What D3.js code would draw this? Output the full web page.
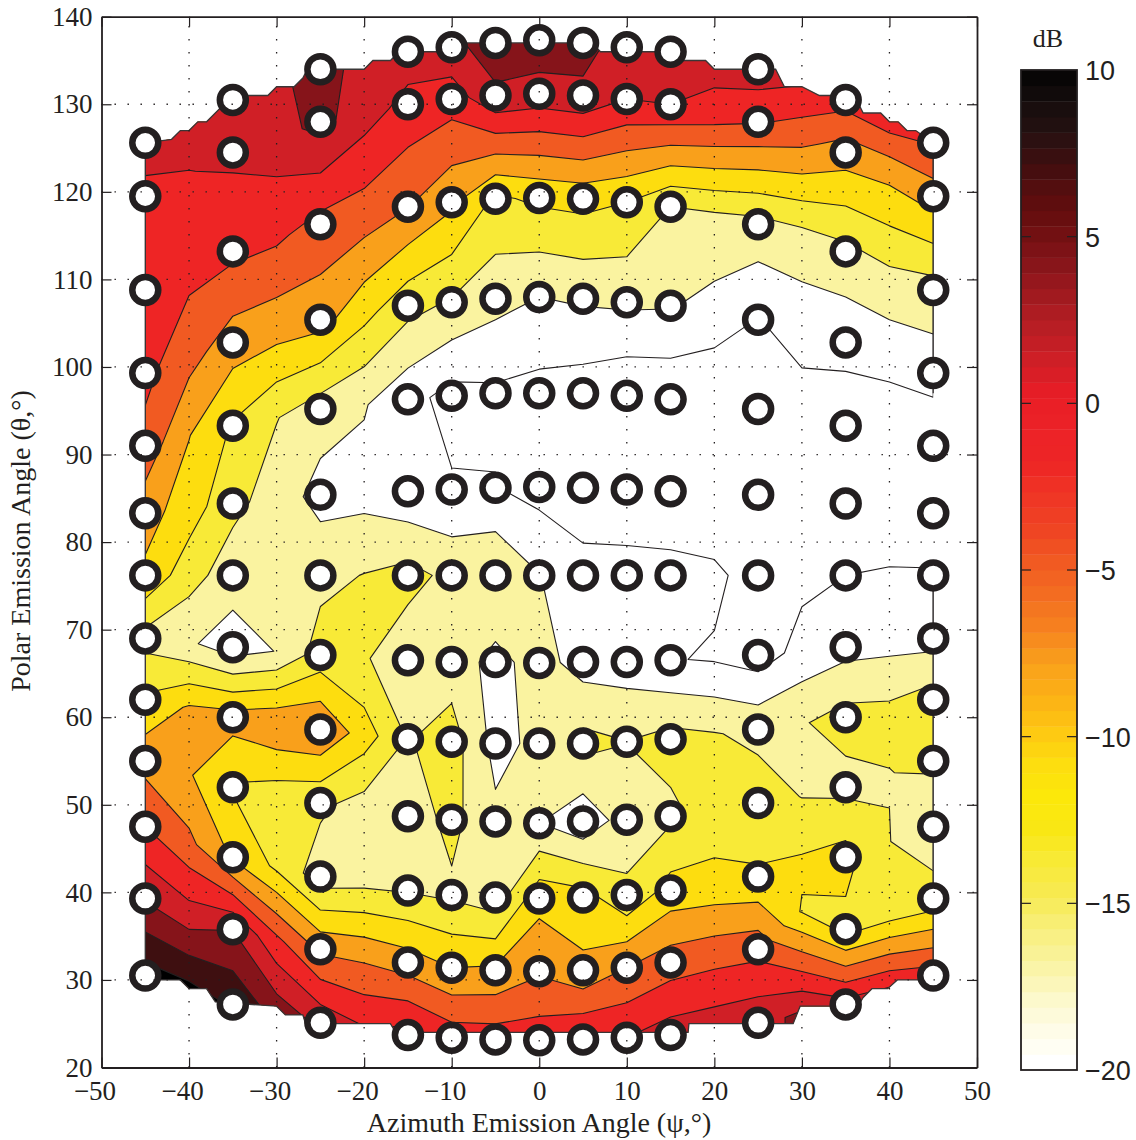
<!DOCTYPE html>
<html>
<head>
<meta charset="utf-8">
<style>html,body{margin:0;padding:0;background:#fff}svg{display:block}</style>
<script src="https://cdn.jsdelivr.net/npm/d3@7"></script>
</head>
<body>
<svg id="c" width="1136" height="1140"></svg>
<script>
// Azimuth columns of the field; the measured ones carry markers
const psiColumns = [-45,-40,-35,-30,-25,-20,-15,-10,-5,0,5,10,15,20,25,30,35,40,45];
const measuredPsi = [-45,-35,-25,-15,-10,-5,0,5,10,15,25,35,45];
// Polar angle of each measurement (bottom to top)
const thetaA = [30.5,39.3,47.5,55,62,69,76.2,83.3,91,99.3,108.8,119.5,125.6];
const thetaB = [27.2,35.8,44,52,60,68,76.2,84.4,93.3,102.8,113.2,124.5,130.5];
const thetaC = [25.1,33.5,41.8,50.2,58.6,67.1,76.2,85.4,95.2,105.4,116.3,128,134];
const thetaD = [23.7,32,40.2,48.7,57.5,66.5,76.2,85.8,96.3,107,118.3,130,136];
const thetaE = [23.4,31.4,39.7,48.3,57.2,66.3,76.2,86,96.7,107.4,118.8,130.6,136.5];
const thetaF = [23.2,31.1,39.4,48.1,57,66.3,76.2,86.2,97,107.8,119.2,131,137];
const thetaG = [23.1,31,39.3,47.9,57,66.2,76.2,86.3,97,108,119.3,131.2,137.3];
const thetaAB = [28.85,37.55,45.75,53.5,61,68.5,76.2,83.85,92.15,101.05,111,122,128];
const thetaBC = [26.1,34.55,42.85,51,59.25,67.5,76.2,84.85,94.15,104,114.6,126.1,132.15];
const thetaCD = [24.35,32.65,40.95,49.35,58,66.75,76.2,85.55,95.65,106.1,117.15,128.85,134.9];
const thetaP30 = [26.1,38,42.85,51,59.25,67.5,76.2,84.85,94.15,104,114.6,126.1,132.15];
const thetaByColumn = [thetaA,thetaAB,thetaB,thetaBC,thetaC,thetaCD,thetaD,thetaE,thetaF,thetaG,thetaF,thetaE,thetaD,thetaCD,thetaC,thetaP30,thetaB,thetaAB,thetaA];
// dB per column (bottom to top)
const dbM45 = [11.3,3.7,-2,-6.1,-10.5,-15.1,-8.6,-6.8,-3,-1.2,-0.2,0.5,1.8];
const dbM40 = [11,2.2,-4.3,-7.7,-7.6,-16.6,-12.8,-9.5,-7.9,-4,-1.2,0.9,2.2];
const dbM35 = [9.5,3.9,-8.4,-11.3,-6.8,-18.5,-15.6,-13.2,-11.3,-6.5,-1.3,1.6,2.2];
const dbM30 = [6,-1.3,-11.5,-12.5,-5.5,-16.9,-15.2,-15.3,-13.9,-7,-1.6,2.6,3.4];
const dbM25 = [3.2,-5.6,-15.6,-13.4,-5.1,-12.75,-14.8,-18.1,-15.5,-6.8,-3,5,5.2];
const dbM20 = [1.3,-5.6,-14.5,-15.5,-9.5,-13.7,-13.9,-18,-16.8,-10.1,-3.6,2.2,3];
const dbM15 = [2,-6.5,-14.2,-15.5,-14.2,-15.9,-13,-19.3,-19,-13,-4.9,0.1,2.5];
const dbM10 = [-0.3,-8,-14.5,-13.2,-12.6,-15.5,-14.8,-19.7,-21,-14.3,-7.4,-0.65,3.2];
const dbM5  = [-0.4,-7.5,-15.6,-16.3,-18,-17.9,-14.1,-19.9,-20.5,-16,-11.5,3.5,5.5];
const db0   = [-0.2,-5.4,-9,-16.95,-16.2,-15.8,-16.9,-21.1,-21,-17,-10.4,2.8,5.8];
const dbP5  = [1.2,-7.3,-9.8,-19.2,-13,-18.3,-19.3,-21.2,-21.5,-16.6,-10,3.3,5.2];
const dbP10 = [1,-5,-13.4,-15.5,-13.95,-18.5,-19.25,-21.4,-22.5,-16.5,-11,1,2.5];
const dbP15 = [2.5,-3.5,-9.8,-14.6,-13,-19.8,-19.3,-21.6,-22.5,-16.8,-14,1,2.5];
const dbP20 = [2.8,-3,-10,-12.8,-13.8,-20.3,-19.4,-22.5,-23,-18.2,-14.6,-0.6,2.6];
const dbP25 = [3.2,-3,-10.7,-12.5,-14.8,-21.5,-21.3,-22,-22,-20.1,-15,-1.8,2.8];
const dbP30 = [4.5,-11.4,-10.3,-14.1,-14.2,-19,-20.7,-21.8,-21.4,-19,-15.3,-4,1];
const dbP35 = [2.2,-12,-9.8,-14.8,-13,-18,-20,-21.5,-21.5,-19.2,-14.8,-6.5,-0.8];
const dbP40 = [1.5,-12.3,-13.95,-14.05,-13.5,-17.9,-19.6,-22.7,-22,-19.1,-14.3,-7.2,-0.6];
const dbP45 = [-0.5,-13,-15.6,-13.6,-12.6,-18.2,-19.6,-23,-23,-18.5,-15.3,-6.6,-1.8];
const dbByColumn = [dbM45,dbM40,dbM35,dbM30,dbM25,dbM20,dbM15,dbM10,dbM5,db0,dbP5,dbP10,dbP15,dbP20,dbP25,dbP30,dbP35,dbP40,dbP45];
// Contour levels
const levels = [-20,-17,-14,-11,-8,-5,-2,1,4,7,10];
// Colormap
const cmapDb = [-20,-19,-18,-17,-16,-15,-14,-13,-12,-11,-10,-9,-8,-7,-6,-5,-4,-3,-2,-1,0,1,2,3,4,5,6,7,8,9,10];
const cmapHex = ["#ffffff","#fefce6","#fcf8c8","#faf3a0","#f8ef7c","#f7ea52","#f8ea37","#f9e714","#fce80a","#fddd0f","#fec612","#fbb016","#f9a01b","#f6821f","#f36d21","#f15a22","#ef4423","#ef3525","#ee2525","#ec2227","#e91d26","#d01f26","#b91e24","#a01a1f","#86141a","#6e0f10","#5a0d0e","#3e0f10","#231011","#120c0c","#000000"];
// Outline of the interpolated region (azimuth, polar)
const outlineTopPsi = [-45,-42,-41,-40,-39,-38,-37,-36,-35,-31,-30,-28,-27,-26.5,-20,-19,-17,-16,-11,-10,6,7,15,16,19,20,27,28,30,32,36,37,39,40,41,42,43,45];
const outlineTopTheta = [125.6,126,127,127,128,128,129,130,131,131,132,132,133,134,134,135,135,136,136,137,137,136,136,135,135,134,134,132,132,131,131,129,129,128,128,127,127,125.6];
const outlineBottomPsi = [-45,-41,-40,-38,-37,-30,-29,-27,-26.7,-17,-16.4,17,17.1,29,29.8,36.4,37,38,39.8,40.9,45];
const outlineBottomTheta = [30,30,29,29,27.5,27,26,26,25,25,24,24,25,25,27,27,28,29,29,30,30];
const rightEdgeGap = [97,77.3];
// Tick labels
const xTicks = [-50,-40,-30,-20,-10,0,10,20,30,40,50];
const yTicks = [20,30,40,50,60,70,80,90,100,110,120,130,140];
const barTicks = [10,5,0,-5,-10,-15,-20];
const xTitle = "Azimuth Emission Angle (ψ,°)";
const yTitle = "Polar Emission Angle (θ,°)";
const barTitle = "dB";

const ink = "#231f20";
const svg = d3.select("#c");
const x = d3.scaleLinear().domain([-50,50]).range([101.5,977]);
const y = d3.scaleLinear().domain([20,140]).range([1067.5,16.7]);
const cmap = d3.scaleLinear().domain(cmapDb).range(cmapHex);
const fmt = v => String(v).replace("-","\u2212");

// grid with a padded row below and above so the outline can clip it
const nc = psiColumns.length, nr = thetaA.length + 2;
const thetaGrid = thetaByColumn.map(t => [t[0]-6, ...t, t[t.length-1]+6]);
const dbGrid = dbByColumn.map(d => [d[0], ...d, d[d.length-1]]);
const flat = [];
for (let j=0;j<nr;j++) for (let i=0;i<nc;i++) flat.push(dbGrid[i][j]);

function mapPoint(p){
  const u = Math.max(0,Math.min(nc-1,p[0]-0.5)), v = Math.max(0,Math.min(nr-1,p[1]-0.5));
  const i = Math.min(nc-2,Math.floor(u)), j = Math.min(nr-2,Math.floor(v));
  const fu = u-i, fv = v-j;
  const psi = psiColumns[i]*(1-fu)+psiColumns[i+1]*fu;
  const t0 = thetaGrid[i][j]*(1-fv)+thetaGrid[i][j+1]*fv;
  const t1 = thetaGrid[i+1][j]*(1-fv)+thetaGrid[i+1][j+1]*fv;
  return [x(psi), y(t0*(1-fu)+t1*fu)];
}
const contours = d3.contours().size([nc,nr]).smooth(true).thresholds(levels)(flat);
const geo = d3.geoPath();
const outlinePts = outlineTopPsi.map((p,i)=>[x(p),y(outlineTopTheta[i])])
  .concat(outlineBottomPsi.map((p,i)=>[x(p),y(outlineBottomTheta[i])]).reverse());
svg.append("clipPath").attr("id","region").append("path").attr("d",d3.line()(outlinePts)+"Z");

const bands = svg.append("g").attr("clip-path","url(#region)");
contours.forEach(c=>{
  const g = {type:"MultiPolygon",coordinates:c.coordinates.map(poly=>poly.map(ring=>ring.map(mapPoint)))};
  bands.append("path").attr("d",geo(g)).attr("fill",cmap(c.value)).attr("fill-rule","evenodd")
    .attr("stroke",ink).attr("stroke-width",1.1).attr("stroke-linejoin","round");
});

// outline
const line = d3.line();
const edgeStyle = s => s.attr("fill","none").attr("stroke","#3a3637").attr("stroke-width",1.3);
svg.append("path").attr("d",line(outlineTopPsi.map((p,i)=>[x(p),y(outlineTopTheta[i])]))).call(edgeStyle);
svg.append("path").attr("d",line(outlineBottomPsi.map((p,i)=>[x(p),y(outlineBottomTheta[i])]))).call(edgeStyle);
svg.append("path").attr("d",line([[x(-45),y(30)],[x(-45),y(125.6)]])).call(edgeStyle);
svg.append("path").attr("d",line([[x(45),y(30)],[x(45),y(rightEdgeGap[1])]])).call(edgeStyle);
svg.append("path").attr("d",line([[x(45),y(rightEdgeGap[0])],[x(45),y(125.6)]])).call(edgeStyle);

// markers
const markers = [];
const measuredTheta = {"-45":thetaA,"-35":thetaB,"-25":thetaC,"-15":thetaD,"-10":thetaE,"-5":thetaF,"0":thetaG,"5":thetaF,"10":thetaE,"15":thetaD,"25":thetaC,"35":thetaB,"45":thetaA};
measuredPsi.forEach(p=>measuredTheta[p].forEach(t=>markers.push([p,t])));
svg.append("g").selectAll("circle").data(markers).join("circle")
  .attr("cx",d=>x(d[0])).attr("cy",d=>y(d[1])).attr("r",13)
  .attr("fill","#fff").attr("stroke",ink).attr("stroke-width",6.5);

// grid
const gridG = svg.append("g").attr("stroke",ink).attr("stroke-width",1.3).attr("stroke-dasharray","1.4 11.6");
xTicks.slice(1,-1).forEach(v=>gridG.append("line").attr("x1",x(v)).attr("x2",x(v)).attr("y1",y(20)).attr("y2",y(140)));
yTicks.slice(1,-1).forEach(v=>gridG.append("line").attr("x1",x(-50)).attr("x2",x(50)).attr("y1",y(v)).attr("y2",y(v)));

// axes with d3.axis
const serif = "'Liberation Serif',serif", sans = "'Liberation Sans',sans-serif";
function styleAxis(g,size){
  g.selectAll("path").attr("stroke",ink).attr("stroke-width",1.8);
  g.selectAll("line").attr("stroke",ink).attr("stroke-width",1.2);
  g.selectAll("text").attr("fill",ink).attr("font-family",serif).attr("font-size",size);
}
const xb = svg.append("g").attr("transform",`translate(0,${y(20)})`).call(d3.axisBottom(x).tickValues(xTicks).tickFormat(fmt).tickSize(-10).tickSizeOuter(0).tickPadding(13));
styleAxis(xb,27);
xb.selectAll("text").attr("dx",d=>d<0?-7:0);
const yl = svg.append("g").attr("transform",`translate(${x(-50)},0)`).call(d3.axisLeft(y).tickValues(yTicks).tickFormat(fmt).tickSize(-10).tickSizeOuter(0).tickPadding(9));
styleAxis(yl,27);
const xt = svg.append("g").attr("transform",`translate(0,${y(140)})`).call(d3.axisTop(x).tickValues(xTicks).tickFormat("").tickSize(-10).tickSizeOuter(0));
styleAxis(xt,27);
const yr = svg.append("g").attr("transform",`translate(${x(50)},0)`).call(d3.axisRight(y).tickValues(yTicks).tickFormat("").tickSize(-10).tickSizeOuter(0));
styleAxis(yr,27);

svg.append("text").attr("x",539).attr("y",1132).attr("text-anchor","middle").attr("font-family",serif).attr("font-size",28).attr("fill",ink).text(xTitle);
svg.append("text").attr("transform","translate(30,541) rotate(-90)").attr("text-anchor","middle").attr("font-family",serif).attr("font-size",28).attr("fill",ink).text(yTitle);

// colorbar
const by = d3.scaleLinear().domain([-20,10]).range([1070,70]);
const bx0 = 1021, bx1 = 1077;
const nCells = 64, cellStep = 30/nCells;
svg.append("g").selectAll("rect").data(d3.range(nCells)).join("rect")
  .attr("x",bx0).attr("width",bx1-bx0)
  .attr("y",i=>by(-20+(i+1)*cellStep)).attr("height",i=>by(-20+i*cellStep)-by(-20+(i+1)*cellStep)+0.4)
  .attr("fill",i=>cmap(-20+i*cellStep));
svg.append("rect").attr("x",bx0).attr("y",70).attr("width",bx1-bx0).attr("height",1000).attr("fill","none").attr("stroke",ink).attr("stroke-width",1.8);
barTicks.forEach(v=>{
  if (v!==10 && v!==-20){
    svg.append("line").attr("x1",bx0).attr("x2",bx0+10).attr("y1",by(v)).attr("y2",by(v)).attr("stroke",ink).attr("stroke-width",1.2);
    svg.append("line").attr("x1",bx1-10).attr("x2",bx1).attr("y1",by(v)).attr("y2",by(v)).attr("stroke",ink).attr("stroke-width",1.2);
  }
  svg.append("text").attr("x",1085).attr("y",by(v)+10).attr("font-family",sans).attr("font-size",27).attr("fill",ink).text(fmt(v));
});
svg.append("text").attr("x",1048).attr("y",47).attr("text-anchor","middle").attr("font-family",serif).attr("font-size",26).attr("fill",ink).text(barTitle);
</script>
</body>
</html>
